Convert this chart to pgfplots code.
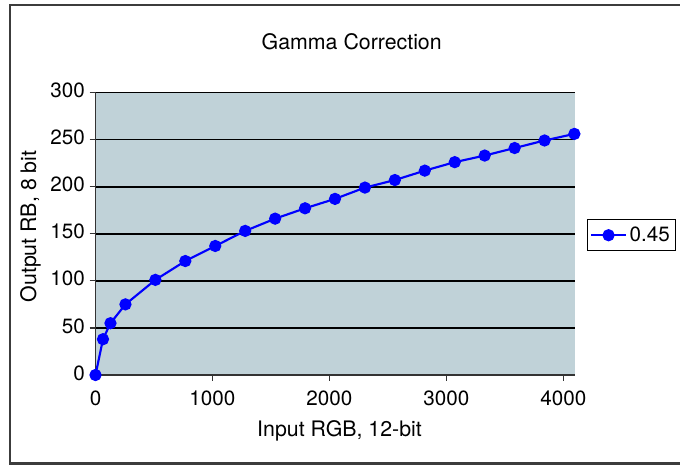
\documentclass[border=0pt]{standalone}
\usepackage{pgfplots}
\pgfplotsset{compat=1.18}
\usepackage{fontspec}
\setmainfont{TeX Gyre Heros}
\definecolor{plotbg}{RGB}{192,210,216}
\definecolor{framegray}{RGB}{60,60,60}
\begin{document}
\begin{tikzpicture}[x=0.75pt,y=0.75pt]
\useasboundingbox (0,0) rectangle (680,466);
\draw[framegray, line width=1.8pt] (10,2.5) rectangle (720,461);
\node[anchor=base, font=\fontsize{16}{19}\selectfont] at (351.7,416) {Gamma Correction};
\node[anchor=base, font=\fontsize{16}{19}\selectfont] at (339.5,29) {Input RGB, 12-bit};
\node[anchor=base, rotate=90, font=\fontsize{16}{19}\selectfont] at (36,239.5) {Output RB, 8 bit};
\begin{axis}[
  at={(71.625pt,68.25pt)}, anchor=south west,
  scale only axis, width=359.6pt, height=211.9pt,
  xmin=0, xmax=4100, ymin=0, ymax=300,
  xtick={0,1000,2000,3000,4000}, ytick={0,50,...,300},
  axis lines*=left,
  axis line style={black!80, line width=1.2pt},
  axis background/.style={fill=plotbg},
  ymajorgrids=true,
  grid style={black, line width=1.4pt},
  tick align=outside,
  major tick length=4.5pt,
  tick style={black!80, line width=1pt},
  ticklabel style={font=\fontsize{15.5}{18}\selectfont},
  xticklabel style={yshift=-4pt},
  yticklabel style={yshift=1.5pt},
  /pgf/number format/assume math mode=true,
  /pgf/number format/1000 sep={},
  scaled ticks=false,
  clip=false,
  legend style={at={(1.025,0.552)}, anchor=north west, draw=black, line width=0.8pt,
    fill=white, font=\fontsize{15.5}{18}\selectfont, inner xsep=2pt, inner ysep=3.5pt},
  legend image code/.code={\draw[mark repeat=2,mark phase=2,#1] plot coordinates {(0pt,0pt)(13pt,0pt)(26pt,0pt)};},
]
\addplot[blue, line width=1.6pt, mark=*, mark size=4.1pt, mark options={solid, fill=blue, draw=blue, line width=1pt}] coordinates {
(0,0) (64,38) (128,55) (256,75) (512,101) (768,121) (1024,137) (1280,153)
(1536,166) (1792,177) (2048,187) (2304,199) (2560,207) (2816,217)
(3072,226) (3328,233) (3584,241) (3840,249) (4095,256)
};
\addlegendentry{0.45\hspace{20pt}}
\end{axis}
\end{tikzpicture}
\end{document}
